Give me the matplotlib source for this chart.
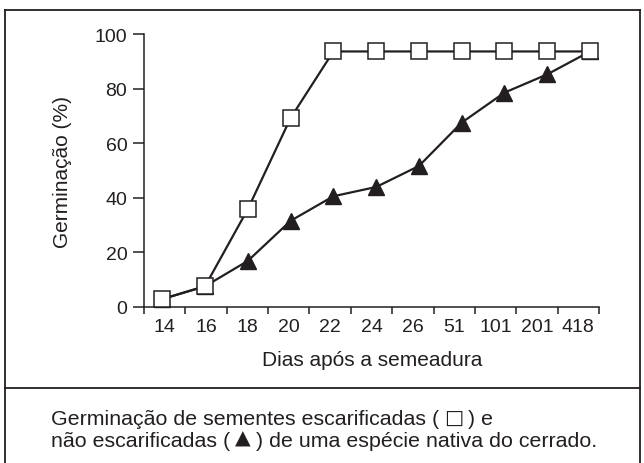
import matplotlib
matplotlib.use("Agg")
import matplotlib.pyplot as plt
import numpy as np
from matplotlib.lines import Line2D

plt.rcParams['font.family'] = ['Liberation Sans', 'DejaVu Sans']

days = ["14", "16", "18", "20", "22", "24", "26", "51", "101", "201", "418"]
escarificadas = [2.8, 7.5, 35.8, 69.2, 93.6, 93.6, 93.6, 93.6, 93.6, 93.6, 93.6]
nao_escarificadas = [2.8, 7.5, 16.8, 31.5, 40.5, 43.9, 51.6, 67.5, 78.5, 85.2, 93.6]
y_ticks = [0, 20, 40, 60, 80, 100]

ylabel = "Germinação (%)"
xlabel = "Dias após a semeadura"
caption_line1 = ["Germinação de sementes escarificadas (", "\u25A1", ") e"]
caption_line2 = ["não escarificadas (", "\u25B2", ") de uma espécie nativa do cerrado."]

W, H = 644, 464
ink = "#231f20"
fig = plt.figure(figsize=(W / 100, H / 100), dpi=100)

def fx(px):
    return px / W

def fy(py):
    return 1 - py / H

ax_left, ax_right, ax_top, ax_bottom = 144, 599, 35, 307.7
ax = fig.add_axes([fx(ax_left), fy(ax_bottom), fx(ax_right - ax_left), (ax_bottom - ax_top) / H])

x = np.arange(len(days))
step = 42.77
xl = ((ax_left - 162.3) / step, (ax_right - 162.3) / step)
ax.set_xlim(*xl)
ax.set_ylim(0, 100)

ax.plot(x, escarificadas, color=ink, lw=1.6, marker='s', ms=12, mfc='white',
        mec=ink, mew=1.1, zorder=3, clip_on=False)
ax.plot(x, nao_escarificadas, color=ink, lw=1.6, marker='^', ms=12, mfc=ink,
        mec=ink, zorder=2, clip_on=False)

for s in ['top', 'right']:
    ax.spines[s].set_visible(False)
for s in ['left', 'bottom']:
    ax.spines[s].set_color(ink)
    ax.spines[s].set_linewidth(1.1)

bounds = np.linspace(xl[0], xl[1], len(days) + 1)
centers = (bounds[:-1] + bounds[1:]) / 2
ax.set_xticks(centers)
ax.set_xticklabels(days)
ax.set_xticks(bounds, minor=True)
ax.tick_params(axis='x', which='major', length=0, pad=8, labelsize=14, labelcolor=ink)
ax.tick_params(axis='x', which='minor', length=5, width=1.1, color=ink, direction='out')
ax.set_yticks(y_ticks)
ax.tick_params(axis='y', length=8, width=1.1, color=ink, labelsize=14, labelcolor=ink, pad=4)

fig.text(fx(63), fy(172), ylabel, rotation=90, ha='center', va='center', fontsize=15, color=ink)
fig.text(fx(372), fy(361), xlabel, ha='center', va='center', fontsize=15, color=ink)

# frame
fl = 1.3
fig.add_artist(Line2D([fx(5), fx(5)], [fy(11), fy(470)], color=ink, lw=fl, transform=fig.transFigure))
fig.add_artist(Line2D([fx(5), fx(640)], [fy(11), fy(11)], color=ink, lw=fl, transform=fig.transFigure))
fig.add_artist(Line2D([fx(640), fx(640)], [fy(11), fy(470)], color=ink, lw=fl, transform=fig.transFigure))
fig.add_artist(Line2D([fx(5), fx(640)], [fy(389), fy(389)], color=ink, lw=fl, transform=fig.transFigure))

# caption built from pieces so the symbols can use a font with large glyphs
renderer = fig.canvas.get_renderer()
cap_fs = 15.4

def caption_line(pieces, x0, baseline):
    xpos = x0
    for i, piece in enumerate(pieces):
        is_sym = (i == 1)
        fam = ['DejaVu Sans'] if is_sym else ['Liberation Sans', 'DejaVu Sans']
        fs = cap_fs * (0.95 if is_sym else 1.0)
        yb = baseline - 2 if is_sym else baseline
        t = fig.text(fx(xpos), fy(yb), piece, ha='left', va='baseline',
                     fontsize=fs, color=ink, family=fam)
        w = t.get_window_extent(renderer).width
        xpos += w + 5

caption_line(caption_line1, 51, 425.5)
caption_line(caption_line2, 51, 447)

fig.savefig("out.png", dpi=100)
